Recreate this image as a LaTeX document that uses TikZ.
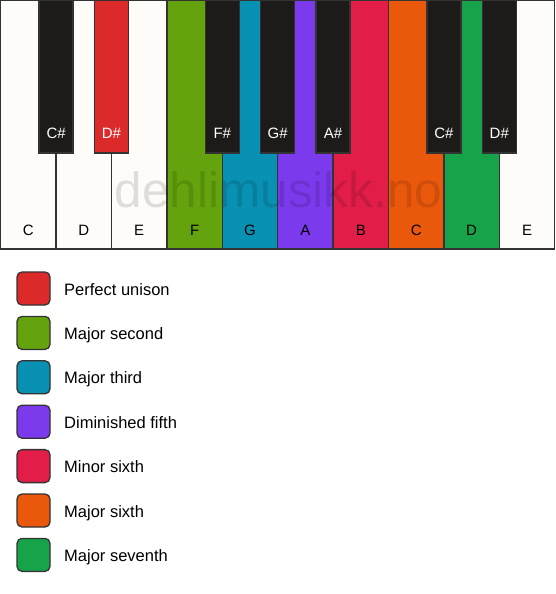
\documentclass[tikz,border=0pt]{standalone}
\usepackage{fontspec}
\setmainfont{Liberation Sans}
\usetikzlibrary{positioning}
\definecolor{keyWhite}{HTML}{FDFCF9}
\definecolor{keyBlack}{HTML}{1C1B1A}
\definecolor{keyEdge}{HTML}{333333}
\definecolor{ivRed}{HTML}{DC2A2A}
\definecolor{ivLime}{HTML}{64A30D}
\definecolor{ivCyan}{HTML}{0891B2}
\definecolor{ivViolet}{HTML}{7C3AED}
\definecolor{ivRose}{HTML}{E11D48}
\definecolor{ivOrange}{HTML}{EA580C}
\definecolor{ivGreen}{HTML}{16A34A}
\tikzset{
    keyline/.style={draw=keyEdge, line width=1.3pt},
    keylabel/.style={anchor=base, inner sep=0pt, font=\fontsize{15}{18}\selectfont},
    legendbox/.style={keyline, rounded corners=5pt, minimum size=33pt, inner sep=0pt},
    legendtext/.style={anchor=base west, inner sep=0pt, font=\fontsize{16.5}{20}\selectfont}
}
\begin{document}
\begin{tikzpicture}[x=1pt, y=-1pt]
            \useasboundingbox (0, 0) rectangle (556, 594);
            % white keys
            \foreach \kIndex/\kName/\kColor in {0/C/keyWhite, 1/D/keyWhite, 2/E/keyWhite, 3/F/ivLime, 4/G/ivCyan, 5/A/ivViolet, 6/B/ivRose, 7/C/ivOrange, 8/D/ivGreen, 9/E/keyWhite}
            {
                \draw[keyline, fill=\kColor] (0.7+\kIndex*55.4, 0.7) rectangle ++(55.4, 248.3);
                \node[keylabel] (w\kIndex) at (0.7+\kIndex*55.4+27.7, 235.7) {\kName};
            }
            \node[anchor=base, inner sep=0pt, text=black, opacity=0.12, font=\fontsize{49.5}{52}\selectfont] (mark) at (278.5, 207) {dehlimusikk.no};
            % black keys
            \foreach \bIndex/\bName/\bColor in {1/C/keyBlack, 2/D/ivRed, 4/F/keyBlack, 5/G/keyBlack, 6/A/keyBlack, 8/C/keyBlack, 9/D/keyBlack}
            {
                \draw[keyline, fill=\bColor] (0.7+\bIndex*55.4-17, 0.7) rectangle ++(34, 152.3);
                \node[keylabel, text=white] (b\bIndex) at (0.7+\bIndex*55.4, 138.3) {\bName\#};
            }
            % legend
            \foreach \lIndex/\lColor/\lText in {0/ivRed/Perfect unison, 1/ivLime/Major second, 2/ivCyan/Major third, 3/ivViolet/Diminished fifth, 4/ivRose/Minor sixth, 5/ivOrange/Major sixth, 6/ivGreen/Major seventh}
            {
                \node[legendbox, fill=\lColor] (box\lIndex) at (33.5, 288.5+\lIndex*44.4) {};
                \node[legendtext] (txt\lIndex) at (64, 295+\lIndex*44.4) {\lText};
            }
        \end{tikzpicture}
\end{document}
